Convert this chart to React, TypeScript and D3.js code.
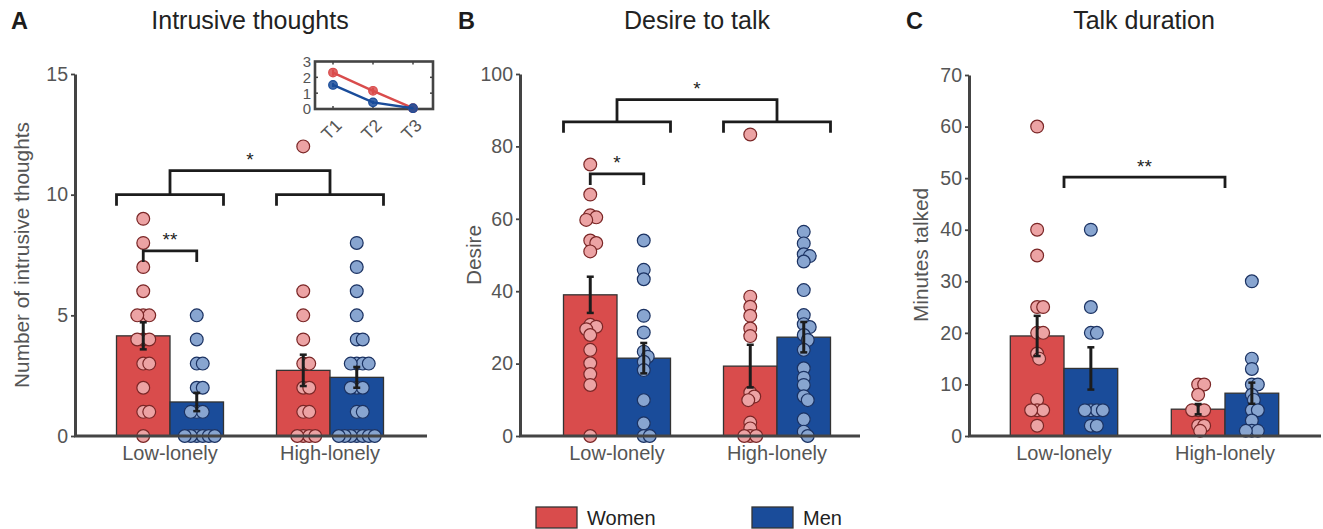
import React, { useEffect, useRef } from 'react';
import * as d3 from 'd3';

const groups = ['Low-lonely', 'High-lonely'];
const genders = ['Women', 'Men'];

// A: intrusive thoughts
const intrusiveWomenMean = [4.15, 2.72];
const intrusiveMenMean = [1.41, 2.43];
const intrusiveWomenSem = [0.56, 0.65];
const intrusiveMenSem = [0.38, 0.43];
const intrusiveLowWomen = [9, 8, 7, 6, 5, 5, 5, 4, 4, 4, 3, 3, 2, 1, 1, 0];
const intrusiveLowMen = [5, 4, 3, 3, 2, 2, 1, 1, 1, 0, 0, 0, 0, 0, 0];
const intrusiveHighWomen = [12, 6, 5, 4, 3, 3, 2, 2, 1, 1, 0, 0, 0, 0];
const intrusiveHighMen = [8, 7, 6, 5, 4, 4, 3, 3, 3, 3, 2, 2, 2, 1, 1, 0, 0, 0, 0, 0, 0, 0];
const intrusiveTicks = [0, 5, 10, 15];

// A inset: intrusive thoughts over time
const timepoints = ['T1', 'T2', 'T3'];
const insetWomen = [2.3, 1.15, 0.05];
const insetMen = [1.52, 0.42, 0.05];
const insetWomenSem = [0.2, 0.2, 0.03];
const insetMenSem = [0.13, 0.1, 0.03];
const insetTicks = [0, 1, 2, 3];

// B: desire to talk
const desireWomenMean = [39, 19.3];
const desireMenMean = [21.5, 27.3];
const desireWomenSem = [5, 5.9];
const desireMenSem = [4.2, 4.2];
const desireLowWomen = [75, 66.7, 61, 60.4, 59.7, 54, 53.3, 51, 30.7, 30.2, 29.5, 27.9, 23.8, 20.1, 17.1, 14.1, 0];
const desireLowMen = [54, 45.9, 43.3, 33.2, 28.6, 23.3, 21.9, 20.5, 18.2, 9.9, 3.5, 0, 0];
const desireHighWomen = [83.3, 38.5, 35.7, 33.2, 29.7, 27.6, 12, 10.9, 9.9, 3.7, 2.1, 0, 0, 0];
const desireHighMen = [56.4, 53.2, 50.2, 49.7, 48.2, 40.3, 33.4, 30.9, 30.1, 27.9, 26.5, 23.8, 18.7, 16.1, 14.1, 11, 9.9, 4.6, 1.2, 0];
const desireTicks = [0, 20, 40, 60, 80, 100];

// C: talk duration
const durationWomenMean = [19.4, 5.2];
const durationMenMean = [13.1, 8.3];
const durationWomenSem = [3.9, 1.0];
const durationMenSem = [4.1, 2.05];
const durationLowWomen = [60, 40, 35, 25, 25, 20, 20, 16, 15, 7, 5, 5, 5, 2];
const durationLowMen = [40, 25, 20, 20, 5, 5, 5, 5, 2, 2];
const durationHighWomen = [10, 10, 8, 5, 5, 5, 2, 2, 1];
const durationHighMen = [30, 15, 13, 10, 10, 8, 7, 5, 5, 3, 1, 1, 1];
const durationTicks = [0, 10, 20, 30, 40, 50, 60, 70];

const FONT = 'Liberation Sans, Arial, Helvetica, sans-serif';
const FILL = { Women: '#d94c4c', Men: '#1a4c9a' };
const DOT = { Women: '#eca3a4', Men: '#88a5d0' };
const EDGE = { Women: '#7a2626', Men: '#1b3262' };
const AXIS = '#444444';
const INK = '#1c1c1c';
const GRAY = '#555555';
const BASE = 436;

type Bracket = { from: [number, number]; to: [number, number]; y: number; label: string };

const panels = [
  {
    letter: 'A', letterX: 11, title: 'Intrusive thoughts', titleX: 250,
    ylabel: 'Number of intrusive thoughts', ylabelX: 29,
    domain: [0, 15], top: 74, ticks: intrusiveTicks,
    axisX: [75, 427], centers: [170, 330], barW: 53.5,
    mean: { Women: intrusiveWomenMean, Men: intrusiveMenMean },
    sem: { Women: intrusiveWomenSem, Men: intrusiveMenSem },
    dots: [[intrusiveLowWomen, intrusiveLowMen], [intrusiveHighWomen, intrusiveHighMen]],
    pairs: [{ from: [0, 0], to: [0, 1], y: 7.67, label: '**' }] as Bracket[],
    groupBracket: { y: 10, top: 11, label: '*' },
  },
  {
    letter: 'B', letterX: 458, title: 'Desire to talk', titleX: 697,
    ylabel: 'Desire', ylabelX: 481,
    domain: [0, 100], top: 74, ticks: desireTicks,
    axisX: [520, 860], centers: [617, 777], barW: 53.5,
    mean: { Women: desireWomenMean, Men: desireMenMean },
    sem: { Women: desireWomenSem, Men: desireMenSem },
    dots: [[desireLowWomen, desireLowMen], [desireHighWomen, desireHighMen]],
    pairs: [{ from: [0, 0], to: [0, 1], y: 72.4, label: '*' }] as Bracket[],
    groupBracket: { y: 86.8, top: 92.9, label: '*' },
  },
  {
    letter: 'C', letterX: 906, title: 'Talk duration', titleX: 1144,
    ylabel: 'Minutes talked', ylabelX: 928,
    domain: [0, 70], top: 75, ticks: durationTicks,
    axisX: [969, 1321], centers: [1064, 1225], barW: 53.7,
    mean: { Women: durationWomenMean, Men: durationMenMean },
    sem: { Women: durationWomenSem, Men: durationMenSem },
    dots: [[durationLowWomen, durationLowMen], [durationHighWomen, durationHighMen]],
    pairs: [{ from: [0, -1], to: [1, -1], y: 50.2, label: '**' }] as Bracket[],
    groupBracket: null as null | { y: number; top: number; label: string },
  },
];

// simple deterministic beeswarm so overlapping values spread sideways
function swarm(values: number[], y: (v: number) => number, cx: number) {
  const placed: { x: number; y: number }[] = [];
  const minD = 5.5, step = 2;
  values.forEach((v) => {
    const py = y(v);
    for (let k = 0; k < 60; k++) {
      const off = (k % 2 === 1 ? 1 : -1) * Math.ceil(k / 2) * step;
      const px = cx + off;
      if (placed.every((p) => Math.hypot(p.x - px, p.y - py) >= minD)) {
        placed.push({ x: px, y: py });
        break;
      }
    }
  });
  return placed;
}

const App: React.FC = () => {
  const svgRef = useRef<SVGSVGElement>(null);

  useEffect(() => {
    const svg = d3.select(svgRef.current);
    svg.selectAll('*').remove();

    panels.forEach((p) => {
      const g = svg.append('g');
      const y = d3.scaleLinear().domain(p.domain).range([BASE, p.top]);
      const stepG = p.centers[1] - p.centers[0];
      const pad = 1 - (2 * p.barW) / stepG;
      const gx = d3.scaleBand<string>()
        .domain(groups)
        .range([p.centers[0] - stepG / 2, p.centers[1] + stepG / 2])
        .paddingInner(pad)
        .paddingOuter(pad / 2);
      const sx = d3.scaleBand<string>().domain(genders).range([0, gx.bandwidth()]);
      const barX = (gi: number, ki: number) => gx(groups[gi])! + sx(genders[ki])!;
      const barC = (gi: number, ki: number) =>
        ki < 0 ? gx(groups[gi])! + gx.bandwidth() / 2 : barX(gi, ki) + sx.bandwidth() / 2;

      // letter and title
      g.append('text').attr('x', p.letterX).attr('y', 29).text(p.letter)
        .attr('font-family', FONT).attr('font-size', 23.5).attr('font-weight', 'bold').attr('fill', INK);
      g.append('text').attr('x', p.titleX).attr('y', 29).text(p.title)
        .attr('text-anchor', 'middle').attr('font-family', FONT).attr('font-size', 25).attr('fill', '#222');

      // bars
      groups.forEach((grp, gi) => {
        genders.forEach((gen, ki) => {
          const m = (p.mean as any)[gen][gi];
          g.append('rect')
            .attr('x', barX(gi, ki)).attr('y', y(m))
            .attr('width', sx.bandwidth()).attr('height', BASE - y(m))
            .attr('fill', (FILL as any)[gen]).attr('stroke', '#333').attr('stroke-width', 1.3);
        });
      });

      // dots
      groups.forEach((grp, gi) => {
        genders.forEach((gen, ki) => {
          const pts = swarm(p.dots[gi][ki], y, barC(gi, ki));
          g.append('g').selectAll('circle').data(pts).enter().append('circle')
            .attr('cx', (d) => d.x).attr('cy', (d) => d.y).attr('r', 6.4)
            .attr('fill', (DOT as any)[gen]).attr('stroke', (EDGE as any)[gen]).attr('stroke-width', 1.2);
        });
      });

      // error bars
      groups.forEach((grp, gi) => {
        genders.forEach((gen, ki) => {
          const m = (p.mean as any)[gen][gi];
          const s = (p.sem as any)[gen][gi];
          const cx = barC(gi, ki);
          const eb = g.append('g').attr('stroke', INK).attr('stroke-width', 3);
          eb.append('line').attr('x1', cx).attr('x2', cx).attr('y1', y(m - s)).attr('y2', y(m + s));
          [m - s, m + s].forEach((v) => {
            eb.append('line').attr('x1', cx - 3.5).attr('x2', cx + 3.5).attr('y1', y(v)).attr('y2', y(v)).attr('stroke-width', 2.5);
          });
        });
      });

      // axes
      const ya = g.append('g').attr('transform', `translate(${p.axisX[0]},0)`)
        .call(d3.axisLeft(y).tickValues(p.ticks).tickSize(4).tickSizeOuter(0).tickPadding(3).tickFormat(d3.format('d')));
      ya.select('.domain').attr('stroke', AXIS).attr('stroke-width', 3);
      ya.selectAll('.tick line').attr('stroke', AXIS).attr('stroke-width', 1.8);
      ya.selectAll('.tick text').attr('font-family', FONT).attr('font-size', 19.5).attr('fill', GRAY);
      g.append('line').attr('x1', p.axisX[0] - 1).attr('x2', p.axisX[1]).attr('y1', BASE).attr('y2', BASE)
        .attr('stroke', AXIS).attr('stroke-width', 3);
      groups.forEach((grp, gi) => {
        g.append('text').attr('x', barC(gi, -1)).attr('y', 460).text(grp)
          .attr('text-anchor', 'middle').attr('font-family', FONT).attr('font-size', 20).attr('fill', GRAY);
      });
      g.append('text').attr('transform', `translate(${p.ylabelX},255) rotate(-90)`).text(p.ylabel)
        .attr('text-anchor', 'middle').attr('font-family', FONT).attr('font-size', 20.8).attr('fill', GRAY);

      // significance brackets
      const br = g.append('g').attr('stroke', INK).attr('stroke-width', 2.8).attr('fill', 'none');
      const star = (x: number, ly: number, label: string) =>
        g.append('text').attr('x', x).attr('y', ly - 4.5).text(label)
          .attr('text-anchor', 'middle').attr('font-family', FONT).attr('font-size', 19).attr('fill', '#222');
      p.pairs.forEach((b) => {
        const x1 = barC(b.from[0], b.from[1]);
        const x2 = barC(b.to[0], b.to[1]);
        const ly = y(b.y);
        br.append('path').attr('d', `M${x1},${ly + 11}V${ly}H${x2}V${ly + 11}`);
        star((x1 + x2) / 2, ly, b.label);
      });
      if (p.groupBracket) {
        const gb = p.groupBracket;
        const ly = y(gb.y);
        groups.forEach((grp, gi) => {
          const x1 = barX(gi, 0);
          const x2 = barX(gi, 1) + sx.bandwidth();
          br.append('path').attr('d', `M${x1},${ly + 11}V${ly}H${x2}V${ly + 11}`);
        });
        const ty = y(gb.top);
        const c1 = barC(0, -1), c2 = barC(1, -1);
        br.append('path').attr('d', `M${c1},${ly}V${ty}H${c2}V${ly}`);
        star((c1 + c2) / 2, ty, gb.label);
      }
    });

    // inset in panel A
    const ig = svg.append('g');
    const ix = d3.scalePoint<string>().domain(timepoints).range([333, 413]);
    const iy = d3.scaleLinear().domain([0, 3]).range([109, 61.5]);
    const [bx0, bx1] = [315, 433];
    ig.append('rect').attr('x', bx0).attr('y', iy(3)).attr('width', bx1 - bx0).attr('height', iy(0) - iy(3))
      .attr('fill', 'white').attr('stroke', AXIS).attr('stroke-width', 2.6);
    timepoints.forEach((t) => {
      ig.append('line').attr('x1', ix(t)!).attr('x2', ix(t)!).attr('y1', iy(3)).attr('y2', iy(3) + 3).attr('stroke', AXIS).attr('stroke-width', 1.5);
      ig.append('line').attr('x1', ix(t)!).attr('x2', ix(t)!).attr('y1', iy(0)).attr('y2', iy(0) - 3).attr('stroke', AXIS).attr('stroke-width', 1.5);
      ig.append('text').attr('transform', `translate(${ix(t)! + 10},126.5) rotate(-45)`).text(t)
        .attr('text-anchor', 'end').attr('font-family', FONT).attr('font-size', 17.5).attr('fill', GRAY);
    });
    insetTicks.forEach((v) => {
      if (v > 0 && v < 3) {
        ig.append('line').attr('x1', bx0).attr('x2', bx0 + 3).attr('y1', iy(v)).attr('y2', iy(v)).attr('stroke', AXIS).attr('stroke-width', 1.5);
        ig.append('line').attr('x1', bx1).attr('x2', bx1 - 3).attr('y1', iy(v)).attr('y2', iy(v)).attr('stroke', AXIS).attr('stroke-width', 1.5);
      }
      ig.append('text').attr('x', bx0 - 4).attr('y', iy(v)).attr('dy', '0.36em').text(v)
        .attr('text-anchor', 'end').attr('font-family', FONT).attr('font-size', 15).attr('fill', GRAY);
    });
    const series = [
      { gen: 'Women', vals: insetWomen, sem: insetWomenSem },
      { gen: 'Men', vals: insetMen, sem: insetMenSem },
    ];
    series.forEach((s) => {
      const color = (FILL as any)[s.gen];
      const line = d3.line<number>().x((d, i) => ix(timepoints[i])!).y((d) => iy(d));
      ig.append('path').datum(s.vals).attr('d', line).attr('fill', 'none').attr('stroke', color).attr('stroke-width', 2.4);
      s.vals.forEach((v, i) => {
        const cx = ix(timepoints[i])!;
        ig.append('line').attr('x1', cx).attr('x2', cx).attr('y1', iy(v - s.sem[i])).attr('y2', iy(v + s.sem[i]))
          .attr('stroke', color).attr('stroke-width', 2);
        ig.append('circle').attr('cx', cx).attr('cy', iy(v)).attr('r', 4.3)
          .attr('fill', color).attr('stroke', color).attr('stroke-width', 1.2).attr('fill-opacity', 0.85);
      });
    });

    // legend
    const legendX = [536, 752];
    genders.forEach((gen, i) => {
      svg.append('rect').attr('x', legendX[i]).attr('y', 507).attr('width', 41).attr('height', 21)
        .attr('fill', (FILL as any)[gen]).attr('stroke', '#333').attr('stroke-width', 1.3);
      svg.append('text').attr('x', legendX[i] + 51).attr('y', 525).text(gen)
        .attr('font-family', FONT).attr('font-size', 20).attr('fill', '#222');
    });
  }, []);

  return (
    <svg
      ref={svgRef}
      width={1323}
      height={529}
      style={{ position: 'absolute', left: 0, top: 0, background: 'white', display: 'block' }}
    />
  );
};

export default App;
